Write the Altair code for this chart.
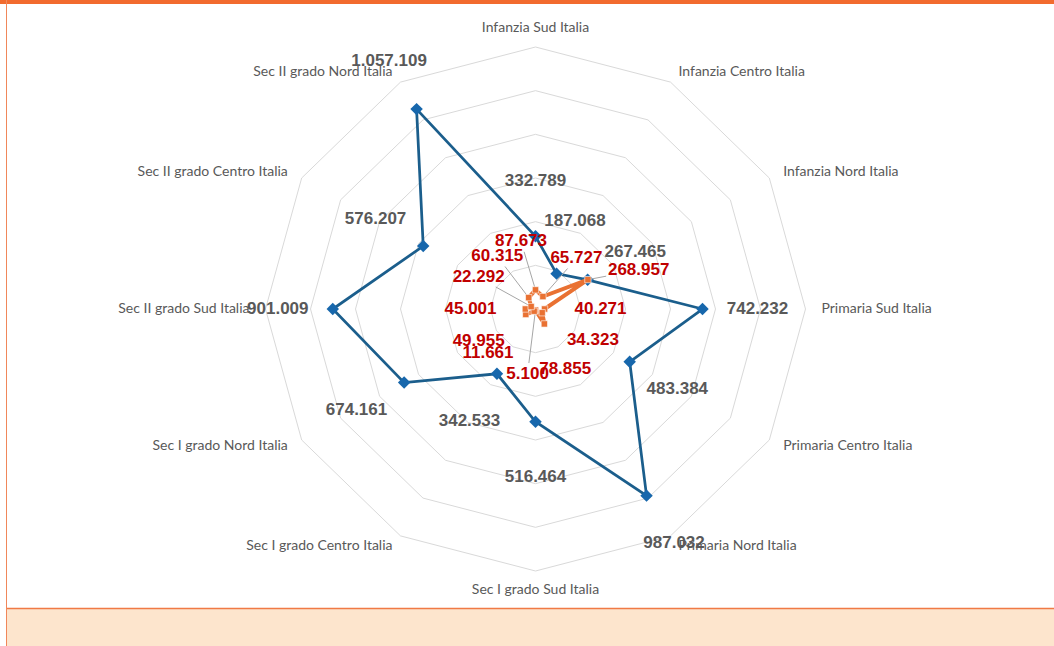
import math
import altair as alt
import pandas as pd

# ---------------- data ----------------
CATEGORIES = [
    "Infanzia Sud Italia", "Infanzia Centro Italia", "Infanzia Nord Italia",
    "Primaria Sud Italia", "Primaria Centro Italia", "Primaria Nord Italia",
    "Sec I grado Sud Italia", "Sec I grado Centro Italia", "Sec I grado Nord Italia",
    "Sec II grado Sud Italia", "Sec II grado Centro Italia", "Sec II grado Nord Italia",
]
BLUE_VALUES = [332789, 187068, 267465, 742232, 483384, 987032,
               516464, 342533, 674161, 901009, 576207, 1057109]
ORANGE_VALUES = [87673, 65727, 268957, 40271, 34323, 78855,
                 5100, 11661, 49955, 45001, 22292, 60315]
GRID_STEPS = [200000, 400000, 600000, 800000, 1000000, 1200000]

# ---------------- style / layout ----------------
BLUE_LABEL_NUDGE = [0, -6, 0, 0, 0, 0, 0, 0, 0, 0, 0, 0]          # degrees
ORANGE_LABEL_NUDGE = [-12, 9, 9, 0, -2, 4, 7, 17, 1, 0, -1, -6]   # degrees
ORANGE_LEADER = [1, 1, 1, 0, 0, 0, 1, 0, 0, 0, 1, 1]

W, H = 1054, 646
CX, CY = 535.5, 309.0
RX, RY = 270.0, 262.0
M = GRID_STEPS[-1]

BLUE_LINE = "#1B5E8C"
BLUE_MARK = "#1767AC"
ORANGE = "#E97132"
GRAY_TXT = "#595959"
RED_TXT = "#C00000"

N = len(CATEGORIES)
ANG = [2 * math.pi * i / N for i in range(N)]


def fmt(v):
    return f"{v:,}".replace(",", ".")


def px_to_data(px, py):
    return px * M / RX, py * M / RY


def text_w(s):
    return sum(9.4 if c.isdigit() else 4.7 for c in s)


# rings
ring_rows = []
for s in GRID_STEPS:
    for k in range(N + 1):
        a = ANG[k % N]
        ring_rows.append({"ring": s, "o": k, "x": s * math.sin(a), "y": s * math.cos(a)})
rings = pd.DataFrame(ring_rows)


def series_df(vals):
    rows = []
    for k in range(N + 1):
        i = k % N
        a = ANG[i]
        rows.append({"o": k, "cat": CATEGORIES[i], "v": vals[i],
                     "x": vals[i] * math.sin(a), "y": vals[i] * math.cos(a)})
    return pd.DataFrame(rows)


blue = series_df(BLUE_VALUES)
orange = series_df(ORANGE_VALUES)
blue_pts = blue[blue.o < N]
orange_pts = orange[orange.o < N]

# labels
blue_lab = []
for i, v in enumerate(BLUE_VALUES):
    a = ANG[i] + math.radians(BLUE_LABEL_NUDGE[i])
    lx = (v / M * RX + 55) * math.sin(a)
    ly = (v / M * RY + 55) * math.cos(a)
    x, y = px_to_data(lx, ly)
    blue_lab.append({"x": x, "y": y, "t": fmt(v)})
blue_lab = pd.DataFrame(blue_lab)

orange_lab, leaders = [], []
for i, v in enumerate(ORANGE_VALUES):
    a0 = ANG[i]
    a = a0 + math.radians(ORANGE_LABEL_NUDGE[i])
    rx = max(65, v / M * RX + 50)
    ry = max(65, v / M * RY + 50)
    lx, ly = rx * math.sin(a), ry * math.cos(a)
    t = fmt(v)
    x, y = px_to_data(lx, ly)
    orange_lab.append({"x": x, "y": y, "t": t})
    if ORANGE_LEADER[i]:
        px_, py_ = v / M * RX * math.sin(a0), v / M * RY * math.cos(a0)
        dx, dy = lx - px_, ly - py_
        L = math.hypot(dx, dy)
        ux, uy = dx / L, dy / L
        hw, hh = text_w(t) / 2, 8.5
        tt = min(hw / abs(ux) if abs(ux) > 1e-6 else 1e9,
                 hh / abs(uy) if abs(uy) > 1e-6 else 1e9) + 2
        if L - tt > 3:
            ex, ey = lx - ux * tt, ly - uy * tt
            x1, y1 = px_to_data(px_, py_)
            x2, y2 = px_to_data(ex, ey)
            leaders.append({"x": x1, "y": y1, "x2": x2, "y2": y2})
orange_lab = pd.DataFrame(orange_lab)
leaders = pd.DataFrame(leaders)

cat_rows = []
for i, c in enumerate(CATEGORIES):
    a = ANG[i]
    sx, cy = math.sin(a), math.cos(a)
    lx = (RX + 16) * sx
    ly = (RY + 12) * cy
    x, y = px_to_data(lx, ly)
    if sx > 0.01:
        g = "left"
    elif sx < -0.01:
        g = "right"
    elif cy > 0:
        g = "top"
    else:
        g = "bottom"
    cat_rows.append({"x": x, "y": y, "t": c, "g": g})
cats = pd.DataFrame(cat_rows)

# ---------------- scales ----------------
xs = alt.Scale(domain=[-CX / RX * M, (W - CX) / RX * M], nice=False, zero=False)
ys = alt.Scale(domain=[-(H - CY) / RY * M, CY / RY * M], nice=False, zero=False)
X = alt.X("x:Q", scale=xs, axis=None)
Y = alt.Y("y:Q", scale=ys, axis=None)

one = alt.Data(values=[{"a": 1}])

frame_top = alt.Chart(one).mark_rect(color="#F26B2E").encode(
    x=alt.value(0), x2=alt.value(W), y=alt.value(0), y2=alt.value(4))
frame_peach = alt.Chart(one).mark_rect(color="#FDE5CD").encode(
    x=alt.value(6), x2=alt.value(W), y=alt.value(609), y2=alt.value(H))
frame_bottom_line = alt.Chart(one).mark_rule(color="#F07A45", strokeWidth=1.5).encode(
    x=alt.value(6), x2=alt.value(W), y=alt.value(608.5))
frame_left = alt.Chart(one).mark_rule(color="#F0875A", strokeWidth=1).encode(
    x=alt.value(6.5), y=alt.value(0), y2=alt.value(H))

ring_layer = alt.Chart(rings).mark_line(color="#D9D9D9", strokeWidth=1).encode(
    x=X, y=Y, detail="ring:N", order="o:Q")

blue_line = alt.Chart(blue).mark_line(color=BLUE_LINE, strokeWidth=2.75).encode(
    x=X, y=Y, order="o:Q")
blue_marks = alt.Chart(blue_pts).mark_point(
    shape="diamond", filled=True, size=155, color=BLUE_MARK, opacity=1).encode(x=X, y=Y)

leader_layer = alt.Chart(leaders).mark_rule(color="#A6A6A6", strokeWidth=1).encode(
    x=X, y=Y, x2="x2:Q", y2="y2:Q")

orange_line = alt.Chart(orange).mark_line(color=ORANGE, strokeWidth=4).encode(
    x=X, y=Y, order="o:Q")
orange_marks = alt.Chart(orange_pts).mark_point(
    shape="square", filled=True, size=40, color=ORANGE, opacity=1,
    stroke="#FFFFFF", strokeWidth=0.6).encode(x=X, y=Y)

cat_layers = []
for g, align, base in [("left", "left", "middle"), ("right", "right", "middle"),
                       ("top", "center", "bottom"), ("bottom", "center", "top")]:
    cat_layers.append(
        alt.Chart(cats[cats.g == g]).mark_text(
            align=align, baseline=base, font="Lato", fontSize=14, color=GRAY_TXT
        ).encode(x=X, y=Y, text="t:N"))

blue_text = alt.Chart(blue_lab).mark_text(
    font="Liberation Sans", fontWeight="bold", fontSize=17, color=GRAY_TXT,
    align="center", baseline="middle").encode(x=X, y=Y, text="t:N")
orange_text = alt.Chart(orange_lab).mark_text(
    font="Liberation Sans", fontWeight="bold", fontSize=17, color=RED_TXT,
    align="center", baseline="middle").encode(x=X, y=Y, text="t:N")

chart = alt.layer(
    frame_peach, frame_top, frame_bottom_line, frame_left,
    ring_layer, blue_line, blue_marks, leader_layer, orange_line, orange_marks,
    *cat_layers, blue_text, orange_text,
).properties(
    width=W, height=H, padding=0, autosize=alt.AutoSizeParams(type="none"),
    background="#FFFFFF",
).configure_view(stroke=None)

chart.save("out.html", embed_options={"renderer": "svg", "actions": False})
